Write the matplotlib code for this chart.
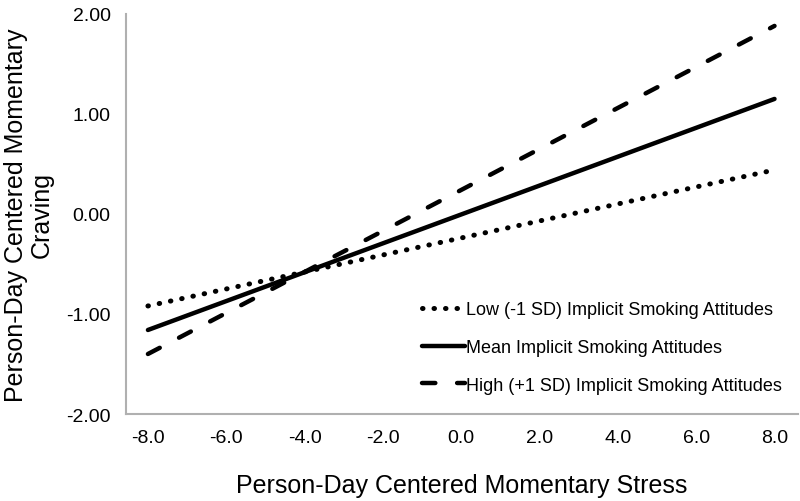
import numpy as np
import matplotlib.pyplot as plt

plt.rcParams['font.family'] = ['Liberation Sans', 'DejaVu Sans']

# stress levels (x) and predicted craving at each end
stress = [-8.0, 8.0]
low_sd = [-0.92, 0.44]
mean_att = [-1.16, 1.15]
high_sd = [-1.40, 1.88]

labels = ['Low (-1 SD) Implicit Smoking Attitudes',
          'Mean Implicit Smoking Attitudes',
          'High (+1 SD) Implicit Smoking Attitudes']
xticks = [-8.0, -6.0, -4.0, -2.0, 0.0, 2.0, 4.0, 6.0, 8.0]
yticks = [-2.0, -1.0, 0.0, 1.0, 2.0]

fig = plt.figure(figsize=(8, 5.02), dpi=100)
ax = fig.add_axes([0.1575, 0.1733, 0.84, 0.797])

ax.plot(stress, low_sd, color='black', lw=3.6, linestyle=(0, (0.1, 2.2)),
        dash_capstyle='round', label=labels[0])
ax.plot(stress, mean_att, color='black', lw=3.2, solid_capstyle='round',
        label=labels[1])
ax.plot(stress, high_sd, color='black', lw=3.2, linestyle=(0, (3.0, 4.9)),
        dash_capstyle='round', label=labels[2])

ax.set_xlim(-8.56, 8.6)
ax.set_ylim(-2.0, 2.0)
ax.set_xticks(xticks)
ax.set_xticklabels(['%.1f' % v for v in xticks])
ax.set_yticks(yticks)
ax.set_yticklabels(['%.2f' % v for v in yticks])
ax.tick_params(length=0, labelsize=14)
ax.tick_params(axis='y', pad=11)
ax.tick_params(axis='x', pad=11)

for s in ['top', 'right']:
    ax.spines[s].set_visible(False)
for s in ['left', 'bottom']:
    ax.spines[s].set_color('#b0b0b0')
    ax.spines[s].set_linewidth(1.5)

ax.set_xlabel('Person-Day Centered Momentary Stress', fontsize=18, labelpad=19)
ax.set_ylabel('Person-Day Centered Momentary\nCraving', fontsize=18, labelpad=9,
              linespacing=1.1)

ax.legend(loc='lower right', bbox_to_anchor=(1.0, 0.01), frameon=False,
          fontsize=13, handlelength=2.4, handletextpad=0.05, labelspacing=1.15)

fig.savefig('out.png', dpi=100)
